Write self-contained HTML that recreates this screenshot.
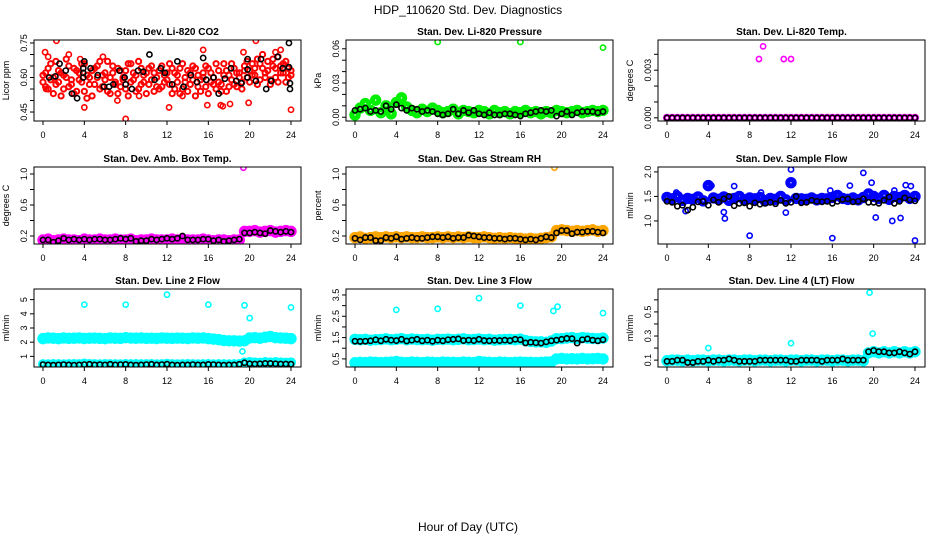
<!DOCTYPE html>
<html><head><meta charset="utf-8"><style>
html,body{margin:0;padding:0;background:#fff;}
svg{display:block;font-family:"Liberation Sans",Arial,sans-serif;}
</style></head><body>
<svg id="chart" width="936" height="540" viewBox="0 0 936 540" xmlns="http://www.w3.org/2000/svg">
<text x="468" y="14" text-anchor="middle" font-size="12">HDP_110620  Std. Dev. Diagnostics</text>
<text x="468" y="531" text-anchor="middle" font-size="12">Hour of Day (UTC)</text>
</svg>
<script>
// ---- data ----
const hourTicks=[0,4,8,12,16,20,24];
const coRed1=[0.58,0.62,0.55,0.66,0.60,0.57,0.63,0.52,0.61,0.68,0.56,0.59,0.64,0.54,0.62,0.58,0.66,0.51,0.60,0.63,0.57,0.65,0.55,0.61,0.59,0.67,0.53,0.62,0.58,0.64,0.56,0.60,0.63,0.52,0.66,0.59,0.61,0.55,0.64,0.58,0.62,0.57,0.65,0.54,0.60,0.63,0.56,0.61,0.59,0.66,0.53,0.62,0.58,0.64,0.55,0.60,0.63,0.57,0.65,0.52,0.61,0.59,0.62,0.56,0.64,0.58,0.60,0.55,0.63,0.57,0.66,0.54,0.61,0.59,0.64,0.56,0.62,0.58,0.65,0.60,0.63,0.66,0.61,0.68,0.59,0.64,0.62,0.67,0.57,0.65,0.60,0.69,0.62,0.66,0.58,0.64,0.61];
const coRed2=[0.61,0.56,0.64,0.59,0.53,0.67,0.58,0.62,0.55,0.60,0.65,0.57,0.53,0.63,0.59,0.66,0.54,0.61,0.57,0.52,0.64,0.60,0.67,0.56,0.62,0.54,0.60,0.65,0.57,0.53,0.63,0.59,0.55,0.66,0.58,0.62,0.54,0.67,0.57,0.61,0.53,0.64,0.59,0.62,0.56,0.55,0.65,0.58,0.62,0.57,0.64,0.55,0.61,0.53,0.66,0.58,0.54,0.62,0.59,0.64,0.56,0.54,0.60,0.65,0.53,0.62,0.57,0.66,0.58,0.54,0.61,0.63,0.56,0.66,0.57,0.62,0.60,0.55,0.63,0.67,0.58,0.61,0.64,0.57,0.66,0.70,0.60,0.63,0.59,0.68,0.64,0.58,0.65,0.62,0.67,0.60,0.63];
const coRedOutHour=[0.2,0.3,0.5,1.3,2.5,3.6,4,5.8,7.2,8,9.3,12.2,13.5,15.5,15.9,17.2,17.4,18.1,19.4,19.9,20.6,22.5,23,24];
const coRedOutVal=[0.71,0.55,0.69,0.76,0.70,0.68,0.47,0.69,0.50,0.42,0.52,0.47,0.52,0.72,0.48,0.48,0.475,0.485,0.71,0.49,0.76,0.71,0.72,0.46];
const coBlackHour=[0.6,1.2,1.6,2.2,2.8,3.3,3.9,3.9,3.9,4,4.6,5.3,5.9,6.4,6.8,7.4,7.9,8,8.6,9.2,9.7,10.3,10.8,11.4,11.8,12.5,13,13.6,14.3,14.9,15.5,15.8,16.5,17,17.6,18.2,18.7,19.2,19.8,19.8,19.8,20.6,21.1,21.6,22.1,22.7,23.2,23.8,23.8,23.9,23.9];
const coBlackVal=[0.60,0.605,0.66,0.63,0.53,0.51,0.60,0.62,0.64,0.67,0.64,0.61,0.56,0.56,0.57,0.63,0.60,0.57,0.55,0.63,0.625,0.70,0.59,0.64,0.62,0.57,0.67,0.56,0.61,0.58,0.685,0.59,0.60,0.53,0.595,0.64,0.585,0.575,0.60,0.635,0.68,0.585,0.68,0.55,0.585,0.69,0.64,0.75,0.645,0.55,0.575];
const presGreen=[0.002,0.008,0.012,0.006,0.015,0.004,0.010,0.003,0.013,0.017,0.009,0.006,0.004,0.007,0.005,0.008,0.006,0.004,0.005,0.007,0.003,0.006,0.005,0.004,0.006,0.005,0.003,0.006,0.004,0.005,0.003,0.005,0.004,0.006,0.004,0.005,0.003,0.005,0.004,0.006,0.005,0.004,0.005,0.006,0.004,0.005,0.006,0.005,0.006];
const presBlack=[0.006,0.007,0.008,0.005,0.006,0.005,0.010,0.007,0.011,0.008,0.006,0.008,0.007,0.005,0.006,0.005,0.003,0.002,0.003,0.007,0.003,0.006,0.004,0.006,0.003,0.002,0.004,0.002,0.002,0.003,0.003,0.002,0.001,0.003,0.004,0.005,0.006,0.005,0.006,0.001,0.003,0.005,0.002,0.004,0.005,0.005,0.005,0.004,0.005];
const presOutHour=[8,16,24];
const presOutVal=[0.066,0.066,0.061];
const tempMag=[0,0,0,0,0,0,0,0,0,0,0,0,0,0,0,0,0,0,0,0,0,0,0,0,0,0,0,0,0,0,0,0,0,0,0,0,0,0,0,0,0,0,0,0,0,0,0,0,0];
const tempBlack=tempMag;
const tempOutHour=[8.9,9.3,11.3,12];
const tempOutVal=[0.0037,0.0045,0.0037,0.0037];
const ambMag=[0.15,0.16,0.14,0.15,0.16,0.15,0.15,0.14,0.16,0.15,0.15,0.16,0.15,0.15,0.16,0.15,0.15,0.16,0.14,0.15,0.15,0.16,0.15,0.15,0.15,0.16,0.15,0.16,0.15,0.15,0.15,0.16,0.15,0.14,0.15,0.15,0.14,0.15,0.15,0.26,0.26,0.27,0.25,0.26,0.27,0.25,0.26,0.27,0.26];
const ambBlack=[0.15,0.15,0.12,0.14,0.17,0.15,0.16,0.15,0.16,0.15,0.16,0.16,0.15,0.15,0.16,0.17,0.16,0.17,0.13,0.14,0.14,0.16,0.15,0.16,0.17,0.16,0.17,0.20,0.15,0.15,0.15,0.16,0.16,0.14,0.15,0.13,0.14,0.15,0.16,0.24,0.24,0.25,0.24,0.23,0.27,0.26,0.25,0.26,0.25];
const ambOutHour=[19.4];
const ambOutVal=[1.08];
const rhOrange=[0.18,0.19,0.17,0.18,0.19,0.18,0.19,0.18,0.19,0.18,0.19,0.18,0.18,0.19,0.18,0.18,0.19,0.18,0.19,0.18,0.19,0.18,0.19,0.18,0.18,0.19,0.18,0.17,0.18,0.17,0.18,0.17,0.17,0.16,0.17,0.16,0.17,0.18,0.19,0.27,0.28,0.27,0.26,0.27,0.26,0.27,0.28,0.26,0.27];
const rhBlack=[0.17,0.15,0.18,0.18,0.14,0.14,0.18,0.17,0.19,0.16,0.17,0.18,0.17,0.17,0.18,0.19,0.19,0.18,0.19,0.17,0.18,0.18,0.21,0.20,0.19,0.18,0.18,0.17,0.17,0.16,0.17,0.17,0.16,0.15,0.16,0.15,0.17,0.19,0.18,0.24,0.27,0.27,0.23,0.25,0.25,0.26,0.26,0.25,0.24];
const rhOutHour=[19.3];
const rhOutVal=[1.08];
const flowBlue=[1.48,1.45,1.50,1.42,1.46,1.44,1.49,1.41,1.72,1.47,1.44,1.49,1.42,1.46,1.50,1.43,1.47,1.45,1.48,1.41,1.46,1.44,1.50,1.43,1.78,1.46,1.45,1.44,1.47,1.43,1.46,1.45,1.48,1.52,1.46,1.44,1.47,1.43,1.48,1.55,1.50,1.46,1.52,1.44,1.50,1.48,1.52,1.46,1.50];
const flowBlack=[1.40,1.38,1.30,1.32,1.22,1.28,1.39,1.40,1.32,1.43,1.38,1.45,1.50,1.31,1.36,1.37,1.30,1.37,1.34,1.36,1.38,1.35,1.42,1.36,1.38,1.50,1.37,1.38,1.42,1.40,1.39,1.40,1.36,1.40,1.44,1.45,1.39,1.40,1.45,1.38,1.38,1.36,1.42,1.49,1.36,1.40,1.47,1.43,1.41];
const flowOutHour=[0.9,1.8,4.3,5.5,5.6,6.5,8,9.1,11.5,11.9,12,15.8,16,17.7,19,19.8,20.2,21.8,22,22.6,23.1,23.6,24];
const flowOutVal=[1.58,1.20,1.72,1.18,1.05,1.71,0.70,1.58,1.17,1.78,2.05,1.62,0.65,1.72,1.98,1.78,1.07,1.00,1.62,1.06,1.73,1.71,0.60];
const l2Upper=[2.25,2.30,2.28,2.25,2.30,2.27,2.28,2.30,2.26,2.28,2.29,2.27,2.25,2.30,2.28,2.27,2.32,2.29,2.28,2.30,2.27,2.28,2.26,2.30,2.28,2.27,2.29,2.28,2.26,2.30,2.28,2.30,2.25,2.22,2.18,2.12,2.10,2.10,2.08,2.10,2.30,2.32,2.28,2.35,2.40,2.32,2.30,2.28,2.25];
const l2Lower=[0.45,0.44,0.46,0.45,0.44,0.45,0.46,0.45,0.50,0.46,0.45,0.44,0.46,0.45,0.45,0.44,0.46,0.45,0.46,0.45,0.45,0.46,0.44,0.45,0.48,0.45,0.44,0.45,0.46,0.45,0.44,0.45,0.46,0.44,0.45,0.45,0.44,0.45,0.46,0.58,0.60,0.58,0.56,0.60,0.58,0.60,0.58,0.56,0.58];
const l2Black=[0.42,0.40,0.38,0.40,0.42,0.40,0.38,0.40,0.42,0.44,0.40,0.42,0.40,0.44,0.40,0.42,0.43,0.40,0.38,0.40,0.42,0.44,0.40,0.42,0.45,0.40,0.38,0.40,0.40,0.42,0.40,0.40,0.43,0.42,0.40,0.38,0.40,0.40,0.44,0.55,0.48,0.46,0.48,0.50,0.50,0.48,0.46,0.46,0.45];
const l2OutHour=[4,8,12,16,19.3,19.5,20,24];
const l2OutVal=[4.65,4.65,5.35,4.65,1.35,4.6,3.7,4.45];
const l3Upper=[1.42,1.40,1.42,1.38,1.40,1.41,1.44,1.40,1.42,1.45,1.40,1.43,1.41,1.40,1.42,1.38,1.42,1.41,1.43,1.40,1.42,1.44,1.40,1.41,1.43,1.40,1.42,1.38,1.40,1.41,1.42,1.40,1.43,1.36,1.32,1.30,1.30,1.28,1.34,1.45,1.45,1.48,1.50,1.46,1.50,1.48,1.46,1.45,1.48];
const l3Lower=[0.32,0.34,0.33,0.35,0.34,0.33,0.34,0.35,0.38,0.34,0.33,0.35,0.34,0.33,0.35,0.34,0.33,0.35,0.34,0.34,0.33,0.35,0.34,0.33,0.38,0.35,0.34,0.33,0.35,0.34,0.33,0.34,0.35,0.34,0.34,0.33,0.34,0.35,0.36,0.50,0.52,0.50,0.51,0.50,0.52,0.50,0.51,0.52,0.50];
const l3Black=[1.33,1.32,1.33,1.35,1.40,1.35,1.42,1.38,1.36,1.42,1.34,1.38,1.42,1.35,1.38,1.33,1.38,1.35,1.40,1.42,1.44,1.36,1.38,1.36,1.42,1.36,1.35,1.37,1.36,1.38,1.36,1.42,1.40,1.25,1.28,1.26,1.24,1.30,1.35,1.38,1.42,1.46,1.45,1.24,1.40,1.44,1.38,1.35,1.40];
const l3OutHour=[4,8,12,16,19.2,19.6,24];
const l3OutVal=[2.8,2.85,3.35,3.0,2.75,2.95,2.65];
const l4Cyan=[0.095,0.10,0.10,0.095,0.10,0.095,0.10,0.10,0.095,0.10,0.10,0.095,0.10,0.10,0.095,0.10,0.10,0.095,0.10,0.10,0.095,0.10,0.10,0.095,0.10,0.10,0.095,0.10,0.10,0.095,0.10,0.10,0.095,0.10,0.10,0.095,0.10,0.10,0.095,0.16,0.17,0.16,0.17,0.16,0.17,0.16,0.17,0.16,0.17];
const l4Black=[0.09,0.09,0.10,0.10,0.08,0.08,0.09,0.09,0.10,0.09,0.10,0.10,0.11,0.10,0.09,0.09,0.09,0.09,0.10,0.10,0.10,0.10,0.10,0.10,0.09,0.09,0.10,0.10,0.10,0.10,0.09,0.10,0.10,0.10,0.11,0.10,0.10,0.10,0.10,0.17,0.18,0.17,0.17,0.16,0.16,0.17,0.16,0.15,0.17];
const l4OutHour=[4,12,19.6,19.9];
const l4OutVal=[0.20,0.24,0.66,0.32];

// ---- drawing ----
const svg=document.getElementById('chart');
const NS='http://www.w3.org/2000/svg';
function mk(tag,attrs,parent){const e=document.createElementNS(NS,tag);for(const k in attrs)e.setAttribute(k,attrs[k]);parent.appendChild(e);return e;}
const colX=[34,346,658], rowY=[[40,121],[167,244],[289,367]];
function seq(arr){return arr.map((v,i)=>i*24/(arr.length-1));}
function panel(p){
  const g=mk('g',{},svg);
  
  
  const x0=colX[p.c], x1=x0+267, y0=rowY[p.r][0], y1=rowY[p.r][1];
  const xs=h=>x0+9+h*(248/24);
  const ys=v=>y1-(v-p.ymin)/(p.ymax-p.ymin)*(y1-y0);
  const t=mk('text',{x:(x0+x1)/2,y:y0-5,'text-anchor':'middle','font-size':'10','font-weight':'bold'},g);
  t.textContent=p.title;
  
  
  const yl=mk('text',{x:0,y:0,'text-anchor':'middle','font-size':'9',transform:`translate(${x0-25},${(y0+y1)/2}) rotate(-90)`},g);
  yl.textContent=p.ylab;
  
  
  const clip='c'+p.c+p.r;
  const cp=mk('clipPath',{id:clip},g);mk('rect',{x:x0,y:y0,width:267,height:y1-y0},cp);
  const pts=mk('g',{'clip-path':`url(#${clip})`},g);
  function dots(xv,yv,col,nm,r,sw){
    const sg=mk('g',{fill:'none',stroke:col,'stroke-width':sw||1.6},pts);
    
    
    yv.forEach((v,i)=>{const c=mk('circle',{cx:xs(xv[i]),cy:ys(v),r:r||2.6},sg);
      
      });
  }
  p.series.forEach(s=>dots(s.x||seq(s.y),s.y,s.col,s.name,s.r,s.sw));
  const box=mk('rect',{x:x0,y:y0,width:267,height:y1-y0,fill:'none',stroke:'#000','stroke-width':1},g);
  
  
  hourTicks.forEach(h=>{mk('line',{x1:xs(h),x2:xs(h),y1:y1,y2:y1+4,stroke:'#000'},g);
    const tl=mk('text',{x:xs(h),y:y1+17,'text-anchor':'middle','font-size':'9'},g);tl.textContent=h;
    
    });
  p.yticks.forEach(v=>mk('line',{x1:x0,x2:x0-4,y1:ys(v),y2:ys(v),stroke:'#000'},g));
  p.ylabels.forEach(v=>{const tl=mk('text',{x:0,y:0,'text-anchor':'middle','font-size':'9',transform:`translate(${x0-7},${ys(v)}) rotate(-90)`},g);
    tl.textContent=v;
    
    });
}
const RED='#ff0000',GRN='#00ee00',MAG='#ff00ff',ORG='#ffa500',BLU='#0000ff',CYN='#00ffff',BLK='#000';
panel({name:'panel-co2',c:0,r:0,title:'Stan. Dev. Li-820 CO2',ylab:'Licor ppm',ymin:0.411,ymax:0.763,
  yticks:[0.45,0.5,0.55,0.6,0.65,0.7,0.75],ylabels:['0.45','0.60','0.75'],
  series:[{y:coRed1,col:RED,name:'co2-red',sw:2},{y:coRed2,col:RED,name:'co2-red-b',sw:2},{x:coRedOutHour,y:coRedOutVal,col:RED,name:'co2-red-outlier'},{x:coBlackHour,y:coBlackVal,col:BLK,name:'co2-black'}]});
panel({name:'panel-pressure',c:1,r:0,title:'Stan. Dev. Li-820 Pressure',ylab:'kPa',ymin:-0.0033,ymax:0.0677,
  yticks:[0,0.01,0.02,0.03,0.04,0.05,0.06],ylabels:['0.00','0.03','0.06'],
  series:[{y:presGreen,col:GRN,name:'pressure-green',r:3.2,sw:5},{x:presOutHour,y:presOutVal,col:GRN,name:'pressure-outlier'},{y:presBlack,col:BLK,name:'pressure-black'}]});
panel({name:'panel-temp',c:2,r:0,title:'Stan. Dev. Li-820 Temp.',ylab:'degrees C',ymin:-0.0002,ymax:0.0049,
  yticks:[0,0.001,0.002,0.003,0.004],ylabels:['0.000','0.003'],
  series:[{y:tempMag,col:MAG,name:'temp-magenta',sw:3},{x:tempOutHour,y:tempOutVal,col:MAG,name:'temp-outlier'},{y:tempBlack,col:BLK,name:'temp-black'}]});
panel({name:'panel-amb-box-temp',c:0,r:1,title:'Stan. Dev. Amb. Box Temp.',ylab:'degrees C',ymin:0.097,ymax:1.09,
  yticks:[0.2,0.4,0.6,0.8,1.0],ylabels:['0.2','0.6','1.0'],
  series:[{y:ambMag,col:MAG,name:'amb-magenta',r:3.2,sw:5},{x:ambOutHour,y:ambOutVal,col:MAG,name:'amb-outlier'},{y:ambBlack,col:BLK,name:'amb-black'}]});
panel({name:'panel-gas-rh',c:1,r:1,title:'Stan. Dev. Gas Stream RH',ylab:'percent',ymin:0.097,ymax:1.09,
  yticks:[0.2,0.4,0.6,0.8,1.0],ylabels:['0.2','0.6','1.0'],
  series:[{y:rhOrange,col:ORG,name:'rh-orange',r:3.2,sw:5},{x:rhOutHour,y:rhOutVal,col:ORG,name:'rh-outlier'},{y:rhBlack,col:BLK,name:'rh-black'}]});
panel({name:'panel-sample-flow',c:2,r:1,title:'Stan. Dev. Sample Flow',ylab:'ml/min',ymin:0.53,ymax:2.1,
  yticks:[1.0,1.5,2.0],ylabels:['1.0','1.5','2.0'],
  series:[{y:flowBlue,col:BLU,name:'flow-blue',r:3.2,sw:5},{x:flowOutHour,y:flowOutVal,col:BLU,name:'flow-outlier'},{y:flowBlack,col:BLK,name:'flow-black'}]});
panel({name:'panel-line2-flow',c:0,r:2,title:'Stan. Dev. Line 2 Flow',ylab:'ml/min',ymin:0.25,ymax:5.75,
  yticks:[1,2,3,4,5],ylabels:['1','2','3','4','5'],
  series:[{y:l2Upper,col:CYN,name:'line2-upper',r:3.2,sw:5},{y:l2Lower,col:CYN,name:'line2-lower',r:3,sw:4},{x:l2OutHour,y:l2OutVal,col:CYN,name:'line2-outlier'},{y:l2Black,col:BLK,name:'line2-black'}]});
panel({name:'panel-line3-flow',c:1,r:2,title:'Stan. Dev. Line 3 Flow',ylab:'ml/min',ymin:0.12,ymax:3.78,
  yticks:[0.5,1,1.5,2,2.5,3,3.5],ylabels:['0.5','1.5','2.5','3.5'],
  series:[{y:l3Upper,col:CYN,name:'line3-upper',r:3.2,sw:5},{y:l3Lower,col:CYN,name:'line3-lower',r:3.2,sw:5},{x:l3OutHour,y:l3OutVal,col:CYN,name:'line3-outlier'},{y:l3Black,col:BLK,name:'line3-black'}]});
panel({name:'panel-line4-flow',c:2,r:2,title:'Stan. Dev. Line 4 (LT) Flow',ylab:'ml/min',ymin:0.043,ymax:0.69,
  yticks:[0.1,0.2,0.3,0.4,0.5,0.6],ylabels:['0.1','0.3','0.5'],
  series:[{y:l4Cyan,col:CYN,name:'line4-cyan',r:3.2,sw:5},{x:l4OutHour,y:l4OutVal,col:CYN,name:'line4-outlier'},{y:l4Black,col:BLK,name:'line4-black'}]});
</script>
</body></html>
